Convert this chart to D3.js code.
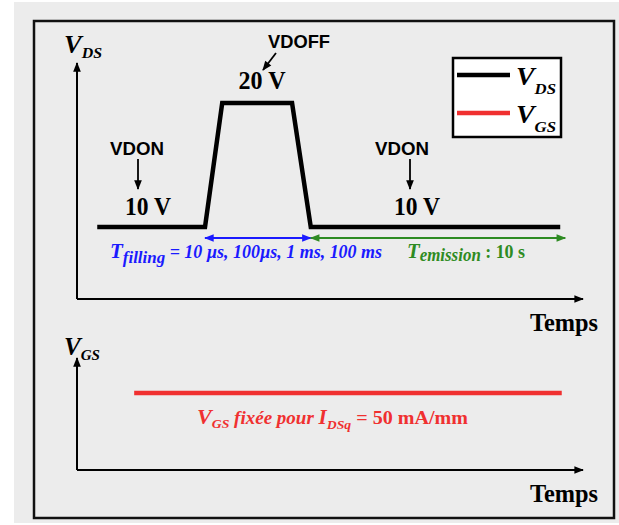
<!DOCTYPE html>
<html><head><meta charset="utf-8">
<script src="https://cdn.jsdelivr.net/npm/d3@7/dist/d3.min.js"></script>
<style>body{margin:0;background:#fff}svg{display:block}</style>
</head><body>
<script>
// ---- data (schematic time units 0..100, voltages) ----
const vdsTime  = [4, 25.3, 28.7, 42.5, 46.2, 95.5];
const vdsValue = [10, 10, 20, 20, 10, 10];
const vgsTime  = [11.3, 95.8];
const vgsValue = [1, 1];
const legendLabels = [{v:"V", s:"DS", c:"#000"}, {v:"V", s:"GS", c:"#f03030"}];
const fillingTimes = ["10 µs", "100µs", "1 ms", "100 ms"];
const emissionTime = "10 s";
const xAxisLabel = "Temps";

const W = 619, H = 525;
const svg = d3.select("body").append("svg").attr("width", W).attr("height", H);
const defs = svg.append("defs");
function marker(id, color, size){
  defs.append("marker").attr("id", id).attr("viewBox","0 0 10 10").attr("refX",9).attr("refY",5)
    .attr("markerWidth",size).attr("markerHeight",size*0.8).attr("orient","auto-start-reverse")
    .attr("markerUnits","userSpaceOnUse")
    .append("path").attr("d","M0,1 L10,5 L0,9 Z").attr("fill",color);
}
marker("ak","#000",12); marker("ab","#1a1aff",12); marker("ag","#2e8b22",12);

// background panel and frame
svg.append("rect").attr("x",14).attr("y",2).attr("width",605).attr("height",521).attr("fill","#ececec");
svg.append("rect").attr("x",34).attr("y",21).attr("width",580).attr("height",497)
  .attr("fill","none").attr("stroke","#111").attr("stroke-width",2.5);

const x = d3.scaleLinear().domain([0,100]).range([77,583]);
const yTop = d3.scaleLinear().domain([10,20]).range([227,103]);
const yBot = d3.scaleLinear().domain([0,2]).range([470,316]);

const serif = "'Liberation Serif','Times New Roman',serif";
const sans = "'Liberation Sans',Arial,sans-serif";

// axes
function axes(yBase, yTopTip){
  svg.append("line").attr("x1",x(0)).attr("y1",yBase).attr("x2",x(0)).attr("y2",yTopTip)
    .attr("stroke","#000").attr("stroke-width",2).attr("marker-end","url(#ak)");
  svg.append("line").attr("x1",x(0)).attr("y1",yBase).attr("x2",x(100)).attr("y2",yBase)
    .attr("stroke","#000").attr("stroke-width",2).attr("marker-end","url(#ak)");
}
axes(299, 63);
axes(470, 358);

function subLabel(g, xx, yy, main, sub, size, color, subDy, len){
  const t = g.append("text").attr("x",xx).attr("y",yy).attr("font-family",serif)
    .attr("font-style","italic").attr("font-weight","bold").attr("fill",color);
  if (len) t.attr("textLength",len).attr("lengthAdjust","spacingAndGlyphs");
  t.append("tspan").attr("font-size",size).text(main);
  t.append("tspan").attr("font-size",size*0.6).attr("dy",subDy).text(sub);
  return t;
}
subLabel(svg, 64, 53, "V", "DS", 26, "#000", 5, 38);
subLabel(svg, 64, 355, "V", "GS", 26, "#000", 5, 36);

function bold(xx,yy,txt,size,fam,len,anchor){
  const t = svg.append("text").attr("x",xx).attr("y",yy).attr("font-family",fam).attr("font-weight","bold")
    .attr("font-size",size).attr("text-anchor",anchor||"middle").text(txt);
  if (len) t.attr("textLength",len).attr("lengthAdjust","spacingAndGlyphs");
  return t;
}
bold(564,331,xAxisLabel,26,serif,68);
bold(564,502,xAxisLabel,26,serif,68);

// VDS waveform
const line = d3.line().x(d=>x(d[0])).y(d=>d[2](d[1]));
svg.append("path").datum(vdsTime.map((t,i)=>[t,vdsValue[i],yTop]))
  .attr("d",line).attr("fill","none").attr("stroke","#000").attr("stroke-width",4.5).attr("stroke-linejoin","miter");
// VGS
svg.append("path").datum(vgsTime.map((t,i)=>[t,vgsValue[i],yBot]))
  .attr("d",line).attr("fill","none").attr("stroke","#f03030").attr("stroke-width",4.5);

// annotations
bold(299,48,"VDOFF",18,sans,62);
svg.append("line").attr("x1",276).attr("y1",53).attr("x2",263).attr("y2",70)
  .attr("stroke","#000").attr("stroke-width",1.8).attr("marker-end","url(#ak)");
bold(262,89,"20 V",25,serif,47);

[[137, 138, 148], [402, 410, 417]].forEach(([cx,ax,tx])=>{
  bold(cx,155,"VDON",19,sans,54);
  svg.append("line").attr("x1",ax).attr("y1",159).attr("x2",ax).attr("y2",189)
    .attr("stroke","#000").attr("stroke-width",1.8).attr("marker-end","url(#ak)");
  bold(tx,215,"10 V",25,serif,46);
});

// legend
const lg = svg.append("g");
lg.append("rect").attr("x",453).attr("y",58).attr("width",108).attr("height",79)
  .attr("fill","#fff").attr("stroke","#000").attr("stroke-width",2.5);
legendLabels.forEach((d,i)=>{
  const yy = 75 + i*38;
  lg.append("line").attr("x1",457).attr("x2",510).attr("y1",yy).attr("y2",yy)
    .attr("stroke",d.c).attr("stroke-width",4.5);
  subLabel(lg, 516, yy+10, d.v, d.s, 26, "#000", 9, 40);
});

// time arrows
svg.append("line").attr("x1",x(vdsTime[1])).attr("x2",x(vdsTime[4])).attr("y1",238).attr("y2",238)
  .attr("stroke","#1a1aff").attr("stroke-width",2).attr("marker-start","url(#ab)").attr("marker-end","url(#ab)");
svg.append("line").attr("x1",x(vdsTime[4])).attr("x2",x(vdsTime[5])+5).attr("y1",238).attr("y2",238)
  .attr("stroke","#2e8b22").attr("stroke-width",2).attr("marker-start","url(#ag)").attr("marker-end","url(#ag)");

const tf = svg.append("text").attr("x",110).attr("y",258).attr("font-family",serif).attr("font-style","italic")
  .attr("font-weight","bold").attr("fill","#1a1aff").attr("font-size",18).attr("textLength",272).attr("lengthAdjust","spacingAndGlyphs");
tf.append("tspan").attr("font-size",21).text("T");
tf.append("tspan").attr("font-size",17).attr("dy",5).text("filling");
tf.append("tspan").attr("dy",-5).text(" = " + fillingTimes.join(", "));

const te = svg.append("text").attr("x",407).attr("y",258).attr("font-family",serif)
  .attr("font-weight","bold").attr("fill","#2e8b22").attr("font-size",18)
  .attr("textLength",118).attr("lengthAdjust","spacingAndGlyphs");
te.append("tspan").attr("font-style","italic").attr("font-size",22).text("T");
te.append("tspan").attr("font-style","italic").attr("font-size",18).attr("dy",3).text("emission");
te.append("tspan").attr("dy",-3).attr("font-size",19).text(" : " + emissionTime);

const tr = svg.append("text").attr("x",197).attr("y",424).attr("font-family",serif)
  .attr("font-weight","bold").attr("fill","#f03030").attr("font-size",19)
  .attr("textLength",271).attr("lengthAdjust","spacingAndGlyphs");
tr.append("tspan").attr("font-style","italic").attr("font-size",21).text("V");
tr.append("tspan").attr("font-style","italic").attr("font-size",13).attr("dy",4).text("GS");
tr.append("tspan").attr("font-style","italic").attr("dy",-4).attr("font-size",18).text("  fixée pour ");
tr.append("tspan").attr("font-style","italic").attr("font-size",20).text("I");
tr.append("tspan").attr("font-style","italic").attr("font-size",13).attr("dy",5).text("DSq");
tr.append("tspan").attr("dy",-5).text(" = 50 mA/mm");
</script>
</body></html>
